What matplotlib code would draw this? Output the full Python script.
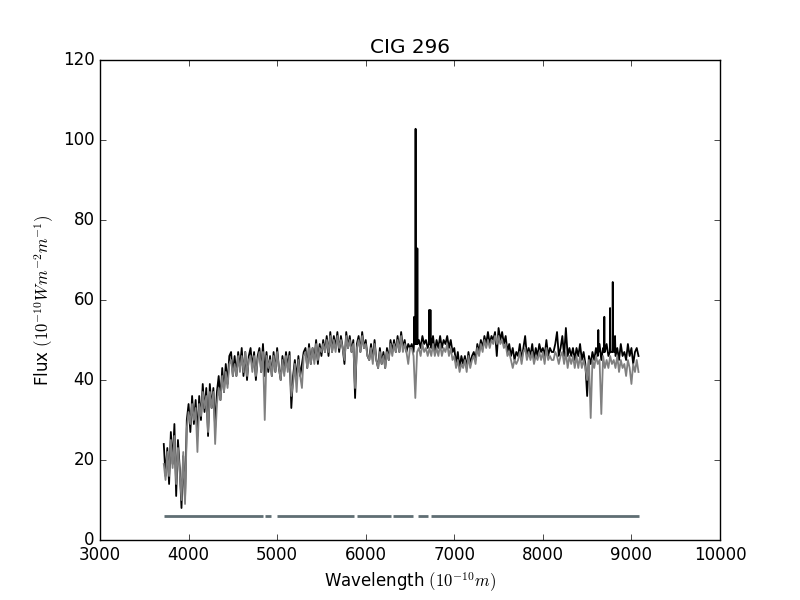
import numpy as np
import matplotlib
matplotlib.use("Agg")
import matplotlib.pyplot as plt

plt.style.use("classic")

# wavelength sampling (Angstrom)
wave = np.arange(3720, 9081, 20)

# observed flux (black)
obs_flux = [
    24, 16, 23, 14, 27, 19, 29, 11, 25, 18,
    8, 21, 10, 30, 34, 27, 36, 29, 35, 26,
    36, 30, 39, 32, 38, 26, 39, 33, 38, 28,
    37, 41, 35, 43, 37, 44, 39, 46, 47, 41,
    46, 41, 47, 43, 48, 41, 47, 40, 46, 48,
    43, 47, 40, 46, 48, 42, 49, 41, 47, 42,
    46, 41, 47, 42, 48, 43, 40, 46, 42, 47,
    43, 47, 33, 41, 45, 40, 46, 41, 44, 47,
    48, 43, 49, 44, 48, 45, 50, 44, 49, 46,
    50, 47, 51, 46, 52, 47, 51, 48, 52, 47,
    51, 48, 44, 52, 48, 51, 47, 50, 35.5, 49,
    51, 47, 52, 48, 50, 46, 45, 49, 45, 50,
    45, 43, 48, 44, 47, 43, 48, 45, 50, 47,
    50, 47, 51, 47, 52, 48, 50, 47, 49, 48,
    49, 47, 49, 49, 50, 48, 51, 49, 50, 48,
    50, 48, 51, 47, 50, 48, 51, 48, 50, 49,
    51, 48, 50, 47, 48, 44, 47, 43, 46, 44,
    46, 43, 47, 44, 46, 47, 45, 49, 47, 50,
    48, 51, 49, 52, 49, 51, 50, 52, 46, 53,
    50, 52, 49, 51, 47, 49, 46, 48, 45, 47,
    46, 49, 45, 48, 51, 46, 48, 46, 49, 45,
    48, 46, 49, 47, 48, 46, 50, 46, 48, 47,
    47, 49, 52, 46, 48, 51, 46, 53, 46, 48,
    46, 48, 45, 48, 46, 49, 45, 47, 44, 36,
    46, 44, 47, 45, 48, 46, 49, 45, 48, 47,
    49, 46, 48, 47, 49, 46, 48, 45, 49, 46,
    47, 45, 49, 46, 48, 44, 47, 48, 46,
]

# synthetic model flux (grey)
model_flux = [
    19, 15, 22, 16, 25, 18, 26, 14, 23, 17,
    10, 22, 9, 28, 32, 29, 34, 30, 33, 22,
    34, 31, 37, 33, 36, 27, 37, 33, 37, 24,
    34, 38, 35, 41, 37, 42, 38, 44, 45, 41,
    44, 41, 46, 42, 46, 42, 47, 41, 45, 46,
    42, 46, 41, 45, 47, 42, 47, 30, 46, 43,
    45, 41, 46, 42, 47, 43, 40, 45, 41, 46,
    42, 46, 36, 39, 44, 37, 45, 41, 38, 46,
    47, 43, 48, 44, 48, 44, 49, 45, 48, 47,
    49, 47, 50, 47, 51, 47, 50, 47, 51, 48,
    50, 48, 45, 51, 48, 50, 47, 49, 38, 48,
    50, 47, 51, 48, 49, 46, 45, 48, 44, 49,
    45, 43, 47, 44, 46, 43, 47, 45, 49, 46,
    49, 47, 50, 47, 51, 47, 49, 47, 44, 48,
    48, 46, 35.5, 47, 48, 46, 49, 47, 48, 46,
    48, 46, 49, 46, 48, 46, 49, 46, 48, 47,
    49, 46, 48, 45, 46, 43, 45, 42, 44, 43,
    45, 42, 46, 43, 45, 46, 44, 48, 46, 49,
    47, 50, 48, 50, 48, 50, 49, 51, 49, 51,
    49, 50, 48, 49, 46, 47, 45, 43, 45, 44,
    45, 47, 44, 47, 48, 45, 47, 45, 47, 44,
    46, 45, 47, 45, 47, 44, 48, 45, 46, 45,
    45, 47, 46, 44, 46, 47, 44, 47, 43, 46,
    44, 46, 43, 46, 43, 46, 43, 45, 43, 40,
    45, 30.5, 45, 43, 46, 44, 45, 31.5, 46, 43,
    45, 43, 46, 44, 45, 43, 46, 42, 45, 43,
    44, 41, 45, 43, 39, 44, 42, 45, 42,
]

# narrow emission features in the observed spectrum
em_wave = [6548, 6563, 6583, 6716, 6731, 8626, 8694, 8759, 8789, 8815]
em_peak = [55.8, 102.8, 72.9, 57.5, 57.5, 52.5, 55.8, 58.0, 64.5, 51.0]
em_base = [49, 49, 49, 49, 49, 47, 47, 47, 47, 47]

# unmasked wavelength ranges (segments drawn at flux = 6)
seg_start = [3725, 4860, 5003, 5897, 6303, 6586, 6733]
seg_end = [4845, 4932, 5863, 6281, 6529, 6699, 9087]
seg_level = 6

# merge emission spikes into observed series
ew = np.array(em_wave, float)
extra_w = np.concatenate([ew - 3, ew, ew + 3])
extra_f = np.concatenate([em_base, em_peak, em_base])
all_w = np.concatenate([wave.astype(float), extra_w])
all_f = np.concatenate([np.array(obs_flux, float), extra_f])
order = np.argsort(all_w, kind="stable")
all_w, all_f = all_w[order], all_f[order]

fig = plt.figure(figsize=(8, 6), dpi=100)
ax = fig.add_subplot(111)
fig.subplots_adjust(left=0.125, right=0.9, bottom=0.1, top=0.9)

ax.plot(all_w, all_f, color="black", lw=1.3)
ax.plot(wave, model_flux, color="#808080", lw=1.3)
ax.hlines(np.full(len(seg_start), seg_level), seg_start, seg_end,
          colors="#5f6e73", lw=2)

ax.set_xlim(3000, 10000)
ax.set_ylim(0, 120)
ax.set_title("CIG 296")
ax.set_xlabel(r"Wavelength $(10^{-10} m)$")
ax.set_ylabel(r"Flux $(10^{-10} W m^{-2} m^{-1})$")

fig.savefig("out.png", dpi=100)
